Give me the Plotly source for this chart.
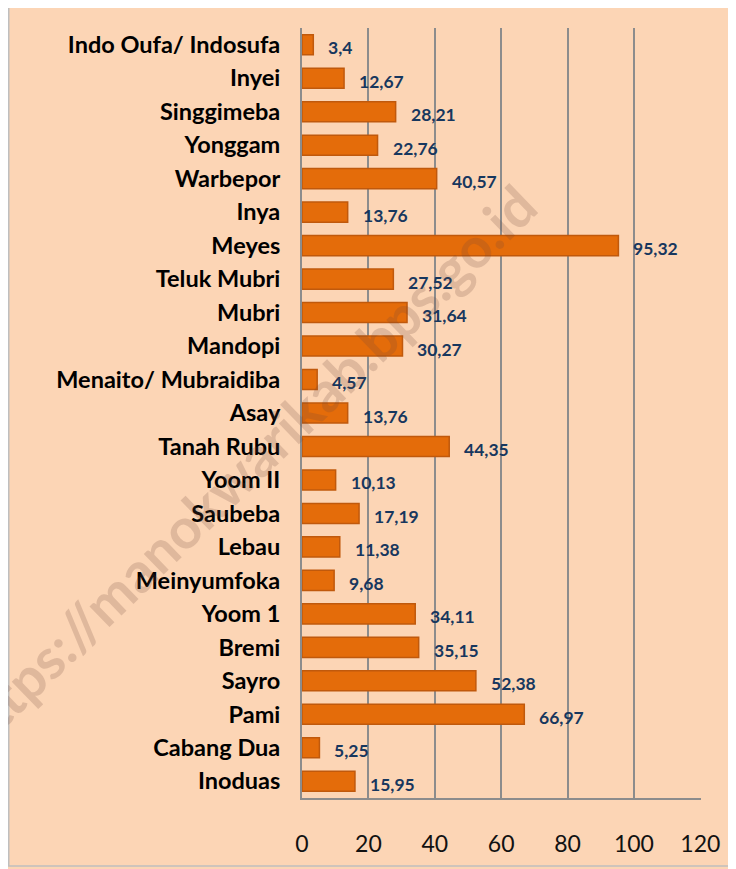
import plotly.graph_objects as go

# data (top to bottom as shown in the chart)
villages = [
    "Indo Oufa/ Indosufa", "Inyei", "Singgimeba", "Yonggam", "Warbepor",
    "Inya", "Meyes", "Teluk Mubri", "Mubri", "Mandopi",
    "Menaito/ Mubraidiba", "Asay", "Tanah Rubu", "Yoom II", "Saubeba",
    "Lebau", "Meinyumfoka", "Yoom 1", "Bremi", "Sayro",
    "Pami", "Cabang Dua", "Inoduas",
]
values = [
    3.4, 12.67, 28.21, 22.76, 40.57,
    13.76, 95.32, 27.52, 31.64, 30.27,
    4.57, 13.76, 44.35, 10.13, 17.19,
    11.38, 9.68, 34.11, 35.15, 52.38,
    66.97, 5.25, 15.95,
]
x_ticks = [0, 20, 40, 60, 80, 100, 120]

BG = "#FCD5B5"
BAR = "#E46C0A"
LABEL_BLUE = "#17375E"
GRID = "#8C8C8C"
FONT = "Lato"

fig = go.Figure()

fig.add_trace(
    go.Bar(
        x=values,
        y=villages,
        orientation="h",
        marker=dict(color=BAR, line=dict(color="#C0590C", width=1.5)),
        hoverinfo="skip",
        showlegend=False,
    )
)

# value labels (comma decimal), a little right of each bar end
annotations = []
for name, v in zip(villages, values):
    annotations.append(
        dict(
            x=v, y=name, xref="x", yref="y",
            text=f"{v:g}".replace(".", ","),
            showarrow=False, xanchor="left", yanchor="middle",
            xshift=13, yshift=-3,
            font=dict(family=FONT, size=17.5, color=LABEL_BLUE, weight="bold"),
        )
    )

# faint diagonal watermark (drawn over everything)
annotations.append(
    dict(
        x=-0.143, y=0.43, xref="paper", yref="paper",
        xanchor="center", yanchor="middle",
        text="https://manokwarikab.bps.go.id",
        showarrow=False, textangle=-44,
        font=dict(family=FONT, size=56, color="rgba(110,70,60,0.2)", weight="bold"),
    )
)

fig.update_layout(
    width=728,
    height=861,
    margin=dict(l=294, r=35, t=20, b=71),
    paper_bgcolor=BG,
    plot_bgcolor=BG,
    bargap=0.4,
    font=dict(family=FONT, color="black"),
    annotations=annotations,
    shapes=[
        # thin grey frame on the left and bottom of the chart panel
        dict(
            type="rect", xref="paper", yref="paper",
            x0=-0.735, x1=1.2, y0=-0.0883, y1=1.05,
            line=dict(color="#BFBFBF", width=1.5),
            layer="below",
        )
    ],
    xaxis=dict(
        range=[0, 120.2],
        tickvals=x_ticks,
        showgrid=True,
        gridcolor=GRID,
        gridwidth=1.5,
        zeroline=False,
        showline=True,
        linecolor=GRID,
        linewidth=2,
        ticks="",
        ticklabelstandoff=24,
        tickfont=dict(family=FONT, size=23, color="#111111"),
    ),
    yaxis=dict(
        autorange="reversed",
        showgrid=False,
        zeroline=False,
        showline=True,
        linecolor=GRID,
        linewidth=2,
        ticks="",
        ticklabelstandoff=15,
        tickfont=dict(family=FONT, size=23.5, color="black", weight="bold"),
    ),
)

fig.write_html("out.html")
